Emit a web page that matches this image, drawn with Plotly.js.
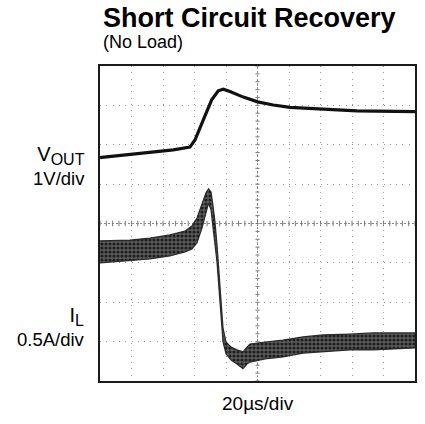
<!DOCTYPE html>
<html>
<head>
<meta charset="utf-8">
<script src="https://cdn.plot.ly/plotly-3.0.1.min.js"></script>
<style>html,body{margin:0;padding:0;background:#fff;}#chart{width:425px;height:424px;}</style>
</head>
<body>
<div id="chart"></div>
<script>
// Time axis in microseconds (20 us/div, 10 divisions); vertical values in scope divisions (8 divisions)
const voutTime = [0, 1.1, 25.4, 46.5, 57.1, 60.3, 65.6, 70.9, 75.1, 78.3, 82.5, 91.0, 100.1, 110.0, 120.6, 141.8, 163.0, 200];
const voutDiv  = [5.67, 5.68, 5.78, 5.87, 5.94, 6.12, 6.63, 7.14, 7.37, 7.41, 7.35, 7.21, 7.09, 7.01, 6.95, 6.90, 6.86, 6.84];

const ilTime  = [0, 19.0, 31.7, 44.4, 54.0, 58.4, 61.6, 64.8, 67.3, 68.9, 70.5, 71.7, 73.0, 74.3, 75.6, 76.8, 78.1, 80.0, 83.2, 87.0, 90.8, 93.3, 95.2, 104.8, 116.2, 128.9, 141.6, 158.7, 173.3, 187.3, 200];
const ilUpper = [3.56, 3.58, 3.63, 3.71, 3.81, 3.94, 4.14, 4.47, 4.78, 4.88, 4.80, 4.47, 4.04, 3.45, 2.69, 1.93, 1.35, 0.99, 0.86, 0.79, 0.74, 0.86, 0.94, 0.99, 1.04, 1.12, 1.17, 1.19, 1.22, 1.22, 1.22];
const ilLower = [3.00, 3.05, 3.10, 3.18, 3.28, 3.35, 3.51, 3.89, 4.29, 4.52, 4.34, 3.96, 3.58, 3.02, 2.31, 1.60, 0.99, 0.69, 0.53, 0.43, 0.31, 0.43, 0.48, 0.56, 0.61, 0.71, 0.74, 0.79, 0.79, 0.81, 0.84];

const xDivs = 10, yDivs = 8, usPerDiv = 20;

const traces = [
  {x: ilTime, y: ilLower, mode: 'lines', line: {color: '#2a2a2a', width: 1.2}, hoverinfo: 'skip', showlegend: false},
  {x: ilTime, y: ilUpper, mode: 'lines', fill: 'tonexty', fillcolor: '#4a4a4a',
   fillpattern: {shape: '.', bgcolor: '#5c5c5c', fgcolor: '#1e1e1e', size: 4, solidity: 0.5},
   line: {color: '#2a2a2a', width: 1.2}, hoverinfo: 'skip', showlegend: false},
  {x: voutTime, y: voutDiv, mode: 'lines', line: {color: '#111111', width: 3.2}, hoverinfo: 'skip', showlegend: false}
];

// centre graticule with minor tick marks (5 per division)
const shapes = [];
const xMid = xDivs * usPerDiv / 2, yMid = yDivs / 2;
shapes.push({type: 'line', xref: 'x', yref: 'y', x0: xMid, x1: xMid, y0: 0, y1: yDivs, line: {color: '#8a8a8a', width: 1, dash: '2px,2px'}, layer: 'below'});
shapes.push({type: 'line', xref: 'x', yref: 'y', x0: 0, x1: xDivs * usPerDiv, y0: yMid, y1: yMid, line: {color: '#8a8a8a', width: 1, dash: '2px,2px'}, layer: 'below'});
for (let k = 0; k <= xDivs * 5; k++) {
  const x = k * usPerDiv / 5;
  shapes.push({type: 'line', xref: 'x', yref: 'y', x0: x, x1: x, y0: yMid - 0.07, y1: yMid + 0.07, line: {color: '#777', width: 1}, layer: 'below'});
}
for (let k = 0; k <= yDivs * 5; k++) {
  const y = k / 5;
  shapes.push({type: 'line', xref: 'x', yref: 'y', x0: xMid - 1.3, x1: xMid + 1.3, y0: y, y1: y, line: {color: '#777', width: 1}, layer: 'below'});
}

const font = 'Liberation Sans, Arial, sans-serif';
const annotations = [
  {text: '<b>Short Circuit Recovery</b>', xref: 'paper', yref: 'paper', x: 0.003, y: 1.152, xanchor: 'left', yanchor: 'middle', showarrow: false, font: {family: font, size: 27, color: '#000'}},
  {text: '(No Load)', xref: 'paper', yref: 'paper', x: 0.003, y: 1.077, xanchor: 'left', yanchor: 'middle', showarrow: false, font: {family: font, size: 18, color: '#000'}},
  {text: '<span style="font-size:20px">V</span><sub><span style="font-size:16px">OUT</span></sub><br>1V/div', xref: 'paper', yref: 'paper', x: -0.042, y: 0.683, xanchor: 'right', yanchor: 'middle', align: 'right', showarrow: false, font: {family: font, size: 18.5, color: '#000'}},
  {text: '<span style="font-size:20px">I</span><sub><span style="font-size:16px">L</span></sub><br>0.5A/div', xref: 'paper', yref: 'paper', x: -0.042, y: 0.171, xanchor: 'right', yanchor: 'middle', align: 'right', showarrow: false, font: {family: font, size: 18.5, color: '#000'}},
  {text: '20\u00b5s/div', xref: 'paper', yref: 'paper', x: 0.5, y: -0.07, xanchor: 'center', yanchor: 'middle', showarrow: false, font: {family: font, size: 19, color: '#000'}}
];

const layout = {
  width: 425, height: 424,
  margin: {l: 100, r: 10, t: 66, b: 43, pad: 0},
  paper_bgcolor: '#fff', plot_bgcolor: '#fff',
  xaxis: {range: [0, xDivs * usPerDiv], dtick: usPerDiv, tick0: 0, showticklabels: false, ticks: '', showgrid: true, gridcolor: '#9a9a9a', griddash: '1px,5.3px', gridwidth: 1, zeroline: false, showline: true, mirror: true, linecolor: '#1a1a1a', linewidth: 2, fixedrange: true},
  yaxis: {range: [0, yDivs], dtick: 1, tick0: 0, showticklabels: false, ticks: '', showgrid: true, gridcolor: '#9a9a9a', griddash: '1px,5.3px', gridwidth: 1, zeroline: false, showline: true, mirror: true, linecolor: '#1a1a1a', linewidth: 2, fixedrange: true},
  shapes: shapes,
  annotations: annotations,
  showlegend: false
};

Plotly.newPlot('chart', traces, layout, {displayModeBar: false, staticPlot: true});
</script>
</body>
</html>
